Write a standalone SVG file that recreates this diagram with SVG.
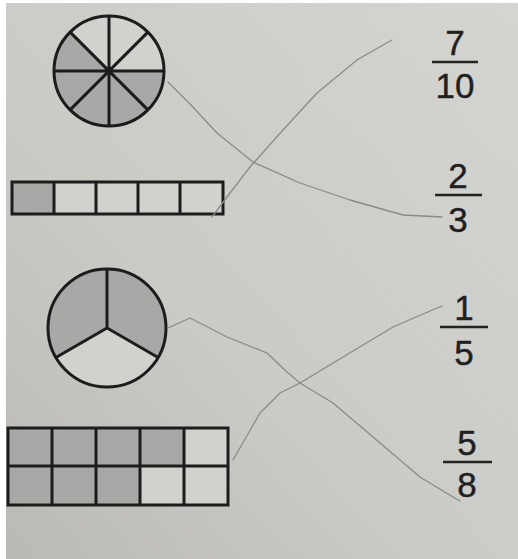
<svg xmlns="http://www.w3.org/2000/svg" width="518" height="559" viewBox="0 0 518 559">
<defs>
<linearGradient id="paper" x1="1" y1="0" x2="0" y2="1">
<stop offset="0" stop-color="#d4d4d1"/>
<stop offset="0.6" stop-color="#cacac7"/>
<stop offset="1" stop-color="#bab9b6"/>
</linearGradient>
<style>
.shade{fill:#a8a8a6}
.blank{fill:#d1d1ce}
.div{stroke:#1c1c1c;stroke-width:3;fill:none}
.pencil{fill:none;stroke:#8a8a88;stroke-width:1.3;stroke-linejoin:round;stroke-linecap:round}
.num{font-family:"Liberation Sans",Arial,sans-serif;font-size:35px;fill:#202020;stroke:#202020;stroke-width:0.4;text-anchor:middle}
.bar{stroke:#222222;stroke-width:2.5}
</style>
</defs>
<rect x="0" y="0" width="518" height="559" fill="#ffffff"/>
<rect x="6" y="3" width="512" height="556" fill="url(#paper)"/>

<g id="circle-eighths">
<circle cx="109" cy="71" r="55" class="shade"/>
<path d="M109,71 L70.1,32.1 A55,55 0 0 1 164,71 Z" class="blank"/>
<path d="M54,71 H164 M109,16 V126 M70.1,32.1 L147.9,109.9 M147.9,32.1 L70.1,109.9" class="div"/>
<circle cx="109" cy="71" r="55" class="div"/>
</g>

<g id="bar-fifths">
<rect x="12" y="182" width="211" height="32" class="blank"/>
<rect x="12" y="182" width="42" height="32" class="shade"/>
<rect x="12" y="182" width="211" height="32" class="div"/>
<path d="M54,182 V214 M96,182 V214 M138,182 V214 M180,182 V214" class="div"/>
</g>

<g id="circle-thirds">
<circle cx="107" cy="328" r="59" class="shade"/>
<path d="M107,328 L158.1,357.5 A59,59 0 0 1 55.9,357.5 Z" class="blank"/>
<path d="M107,269 V328 L158.1,357.5 M107,328 L55.9,357.5" class="div"/>
<circle cx="107" cy="328" r="59" class="div"/>
</g>

<g id="grid-tenths">
<rect x="8" y="428" width="220" height="77" class="blank"/>
<rect x="8" y="428" width="176" height="38" class="shade"/>
<rect x="8" y="466" width="132" height="39" class="shade"/>
<rect x="8" y="428" width="220" height="77" class="div"/>
<path d="M8,466 H228 M52,428 V505 M96,428 V505 M140,428 V505 M184,428 V505" class="div"/>
</g>

<g id="frac-7-10">
<text x="455" y="55" class="num">7</text>
<line x1="432" y1="62" x2="478" y2="62" class="bar"/>
<text x="455" y="98" class="num">10</text>
</g>
<g id="frac-2-3">
<text x="458" y="188" class="num">2</text>
<line x1="435" y1="195" x2="482" y2="195" class="bar"/>
<text x="458" y="232" class="num">3</text>
</g>
<g id="frac-1-5">
<text x="464" y="320" class="num">1</text>
<line x1="440" y1="327" x2="488" y2="327" class="bar"/>
<text x="464" y="365" class="num">5</text>
</g>
<g id="frac-5-8">
<text x="467" y="455" class="num">5</text>
<line x1="443" y1="462" x2="492" y2="462" class="bar"/>
<text x="467" y="497" class="num">8</text>
</g>

<g id="connectors">
<polyline class="pencil" points="168,82 190,104 217,133 253,162 300,183 350,200 403,215 442,217"/>
<polyline class="pencil" points="212,217 230,193 250,167 283,130 317,93 357,60 383,45 392,40"/>
<polyline class="pencil" points="168,328 190,318 227,337 267,353 287,372 300,383 333,403 373,437 420,477 453,497 460,501"/>
<polyline class="pencil" points="233,460 260,413 280,393 300,383 343,357 393,327 437,308 442,306"/>
</g>
</svg>
